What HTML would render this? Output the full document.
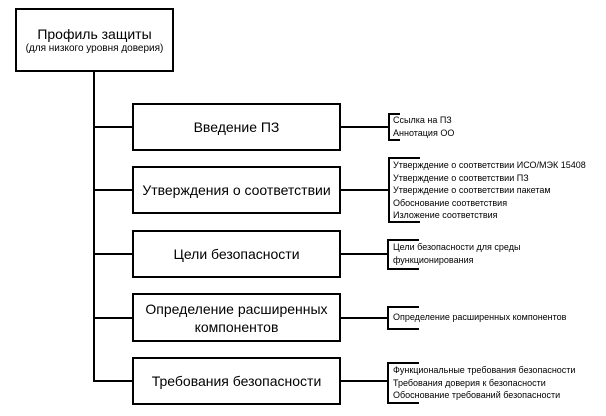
<!DOCTYPE html>
<html><head><meta charset="utf-8"><style>
body{margin:0;background:#fff;width:606px;height:416px;overflow:hidden;font-family:"Liberation Sans",Arial,sans-serif;color:#000}
.a{position:absolute}
.box{position:absolute;border:2px solid #000;box-sizing:border-box;display:flex;flex-direction:column;align-items:center;justify-content:center;text-align:center;font-size:14px;line-height:18px;background:#fff}
.h{position:absolute;height:2px;background:#000}
.v{position:absolute;width:2px;background:#000}
.t{position:absolute;font-size:9px;line-height:12.6px;white-space:nowrap}
</style></head><body>
<div class="v" style="left:93px;top:70px;height:312px"></div>
<div class="box" style="left:15px;top:8px;width:159px;height:64px"><div>Профиль защиты</div><div style="font-size:10px;line-height:12px">(для низкого уровня доверия)</div></div>

<div class="h" style="left:93px;top:126px;width:40px"></div>
<div class="box" style="left:132px;top:103px;width:209px;height:48px">Введение ПЗ</div>
<div class="h" style="left:340px;top:126px;width:49px"></div>
<div class="v" style="left:388px;top:113px;height:28px"></div>
<div class="h" style="left:388px;top:113px;width:12px"></div>
<div class="h" style="left:388px;top:139px;width:12px"></div>
<div class="t" style="left:393px;top:114px">Ссылка на ПЗ<br>Аннотация ОО</div>

<div class="h" style="left:93px;top:189px;width:40px"></div>
<div class="box" style="left:132px;top:166px;width:209px;height:48px">Утверждения о соответствии</div>
<div class="h" style="left:340px;top:189px;width:49px"></div>
<div class="v" style="left:388px;top:157px;height:66px"></div>
<div class="h" style="left:388px;top:157px;width:32px"></div>
<div class="h" style="left:388px;top:221px;width:32px"></div>
<div class="t" style="left:393px;top:159px">Утверждение о соответствии ИСО/МЭК 15408<br>Утверждение о соответствии ПЗ<br>Утверждение о соответствии пакетам<br>Обоснование соответствия<br>Изложение соответствия</div>

<div class="h" style="left:93px;top:253px;width:40px"></div>
<div class="box" style="left:132px;top:230px;width:209px;height:48px">Цели безопасности</div>
<div class="h" style="left:340px;top:253px;width:49px"></div>
<div class="v" style="left:387px;top:239px;height:31px"></div>
<div class="h" style="left:387px;top:239px;width:32px"></div>
<div class="h" style="left:387px;top:268px;width:32px"></div>
<div class="t" style="left:393px;top:241px">Цели безопасности для среды<br>функционирования</div>

<div class="h" style="left:93px;top:317px;width:40px"></div>
<div class="box" style="left:132px;top:293px;width:209px;height:49px">Определение расширенных<br>компонентов</div>
<div class="h" style="left:340px;top:317px;width:49px"></div>
<div class="v" style="left:387px;top:306px;height:24px"></div>
<div class="h" style="left:387px;top:306px;width:32px"></div>
<div class="h" style="left:387px;top:328px;width:32px"></div>
<div class="t" style="left:393px;top:311px">Определение расширенных компонентов</div>

<div class="h" style="left:93px;top:380px;width:40px"></div>
<div class="box" style="left:132px;top:357px;width:209px;height:48px">Требования безопасности</div>
<div class="h" style="left:340px;top:380px;width:49px"></div>
<div class="v" style="left:387px;top:362px;height:42px"></div>
<div class="h" style="left:387px;top:362px;width:32px"></div>
<div class="h" style="left:387px;top:402px;width:32px"></div>
<div class="t" style="left:393px;top:364px">Функциональные требования безопасности<br>Требования доверия к безопасности<br>Обоснование требований безопасности</div>
</body></html>
